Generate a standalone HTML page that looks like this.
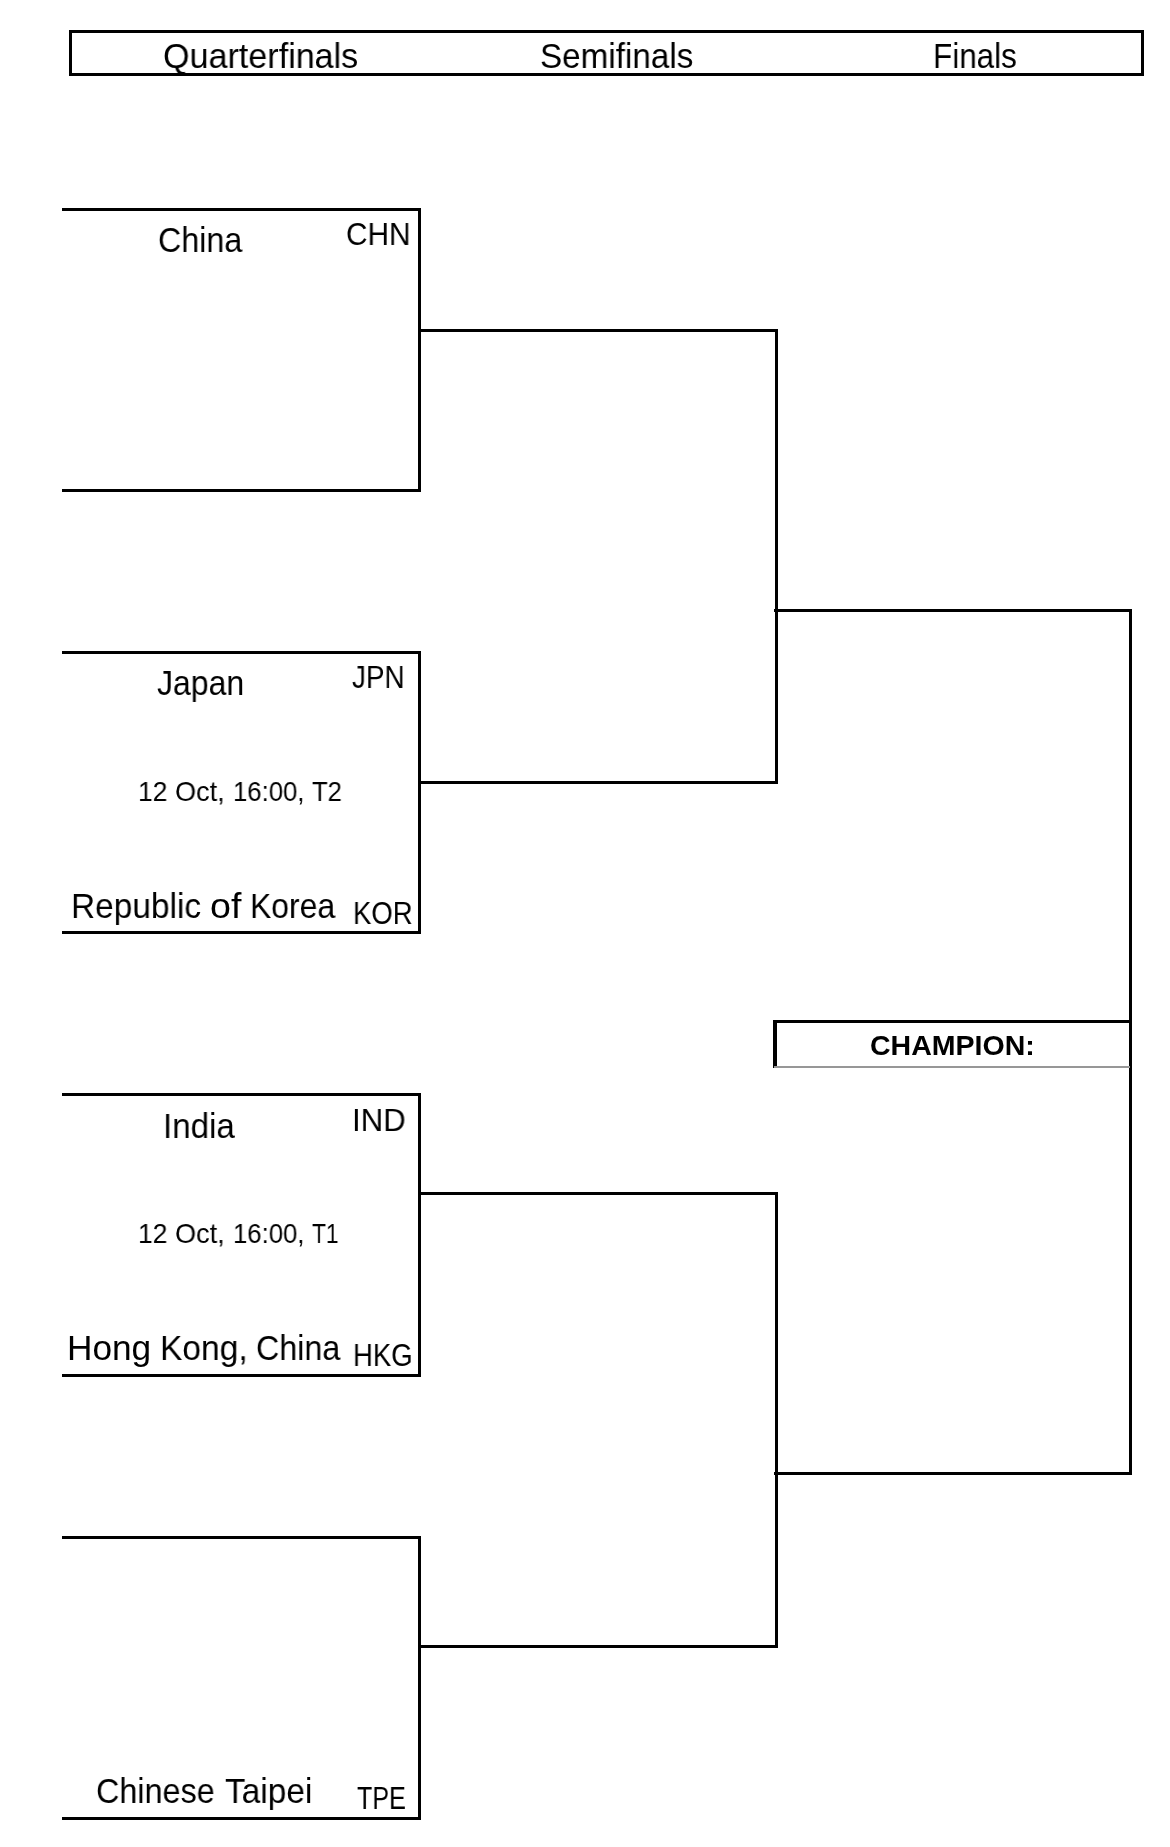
<!DOCTYPE html>
<html><head><meta charset="utf-8">
<style>
html,body{margin:0;padding:0;background:#fff;width:1170px;height:1847px;overflow:hidden;position:relative;}
body{font-family:"Liberation Sans",sans-serif;color:#000;}
.l{position:absolute;background:#000;}
.t{position:absolute;white-space:nowrap;line-height:1;transform-origin:0 0;color:#000;will-change:transform;}
.hdr{position:absolute;left:69px;top:30px;width:1069px;height:40px;border:3px solid #000;}
</style></head><body>
<div class="hdr"></div>
<div class="l" style="left:62px;top:208px;width:359px;height:3px;"></div>
<div class="l" style="left:418px;top:208px;width:3px;height:284px;"></div>
<div class="l" style="left:62px;top:489px;width:359px;height:3px;"></div>
<div class="l" style="left:62px;top:651px;width:359px;height:3px;"></div>
<div class="l" style="left:418px;top:651px;width:3px;height:283px;"></div>
<div class="l" style="left:62px;top:931px;width:359px;height:3px;"></div>
<div class="l" style="left:62px;top:1093px;width:359px;height:3px;"></div>
<div class="l" style="left:418px;top:1093px;width:3px;height:284px;"></div>
<div class="l" style="left:62px;top:1374px;width:359px;height:3px;"></div>
<div class="l" style="left:62px;top:1536px;width:359px;height:3px;"></div>
<div class="l" style="left:418px;top:1536px;width:3px;height:284px;"></div>
<div class="l" style="left:62px;top:1817px;width:359px;height:3px;"></div>
<div class="l" style="left:418px;top:329px;width:360px;height:3px;"></div>
<div class="l" style="left:775px;top:329px;width:3px;height:455px;"></div>
<div class="l" style="left:418px;top:781px;width:360px;height:3px;"></div>
<div class="l" style="left:418px;top:1192px;width:360px;height:3px;"></div>
<div class="l" style="left:775px;top:1192px;width:3px;height:456px;"></div>
<div class="l" style="left:418px;top:1645px;width:360px;height:3px;"></div>
<div class="l" style="left:774px;top:609px;width:358px;height:3px;"></div>
<div class="l" style="left:1129px;top:609px;width:3px;height:866px;"></div>
<div class="l" style="left:774px;top:1472px;width:358px;height:3px;"></div>
<div class="l" style="left:774px;top:1020px;width:358px;height:3px;"></div>
<div class="l" style="left:773px;top:1020px;width:3.5px;height:48px;"></div>
<div class="l" style="left:774px;top:1066px;width:356px;height:2px;background:#979797;"></div>
<div class="t" style="left:163.44px;top:38.37px;font-size:35px;transform:scaleX(0.9746)">Quarterfinals</div>
<div class="t" style="left:540.29px;top:38.37px;font-size:35px;transform:scaleX(0.9494)">Semifinals</div>
<div class="t" style="left:933.30px;top:37.57px;font-size:35px;transform:scaleX(0.8989)">Finals</div>
<div class="t" style="left:157.93px;top:222.17px;font-size:35px;transform:scaleX(0.9213)">China</div>
<div class="t" style="left:346.14px;top:218.74px;font-size:31.5px;transform:scaleX(0.9454)">CHN</div>
<div class="t" style="left:156.67px;top:665.37px;font-size:35px;transform:scaleX(0.9131)">Japan</div>
<div class="t" style="left:351.87px;top:662.34px;font-size:31.5px;transform:scaleX(0.8841)">JPN</div>
<div class="t" style="left:137.51px;top:778.30px;font-size:28px;transform:scaleX(0.9466)">12</div>
<div class="t" style="left:174.83px;top:778.30px;font-size:28px;transform:scaleX(0.9689)">Oct,</div>
<div class="t" style="left:233.39px;top:778.30px;font-size:28px;transform:scaleX(0.9178)">16:00,</div>
<div class="t" style="left:312.11px;top:778.30px;font-size:28px;transform:scaleX(0.9171)">T2</div>
<div class="t" style="left:71.14px;top:887.57px;font-size:35px;transform:scaleX(0.9546)">Republic</div>
<div class="t" style="left:210.02px;top:887.57px;font-size:35px;transform:scaleX(1.0746)">of</div>
<div class="t" style="left:249.91px;top:887.57px;font-size:35px;transform:scaleX(0.9112)">Korea</div>
<div class="t" style="left:352.78px;top:898.14px;font-size:31.5px;transform:scaleX(0.8733)">KOR</div>
<div class="t" style="left:869.98px;top:1031.50px;font-size:28px;font-weight:bold;transform:scaleX(1.0190)">CHAMPION:</div>
<div class="t" style="left:163.38px;top:1108.37px;font-size:35px;transform:scaleX(0.9453)">India</div>
<div class="t" style="left:352.24px;top:1104.74px;font-size:31.5px;transform:scaleX(0.9902)">IND</div>
<div class="t" style="left:137.51px;top:1219.90px;font-size:28px;transform:scaleX(0.9466)">12</div>
<div class="t" style="left:174.83px;top:1219.90px;font-size:28px;transform:scaleX(0.9689)">Oct,</div>
<div class="t" style="left:233.39px;top:1219.90px;font-size:28px;transform:scaleX(0.9178)">16:00,</div>
<div class="t" style="left:312.29px;top:1219.90px;font-size:28px;transform:scaleX(0.8173)">T1</div>
<div class="t" style="left:66.58px;top:1329.57px;font-size:35px;transform:scaleX(1.0064)">Hong</div>
<div class="t" style="left:159.53px;top:1329.57px;font-size:35px;transform:scaleX(0.9589)">Kong,</div>
<div class="t" style="left:255.79px;top:1329.57px;font-size:35px;transform:scaleX(0.9214)">China</div>
<div class="t" style="left:352.79px;top:1340.34px;font-size:31.5px;transform:scaleX(0.8731)">HKG</div>
<div class="t" style="left:96.37px;top:1772.97px;font-size:35px;transform:scaleX(0.9240)">Chinese</div>
<div class="t" style="left:224.66px;top:1772.97px;font-size:35px;transform:scaleX(0.9546)">Taipei</div>
<div class="t" style="left:357.36px;top:1783.14px;font-size:31.5px;transform:scaleX(0.7968)">TPE</div>
</body></html>
